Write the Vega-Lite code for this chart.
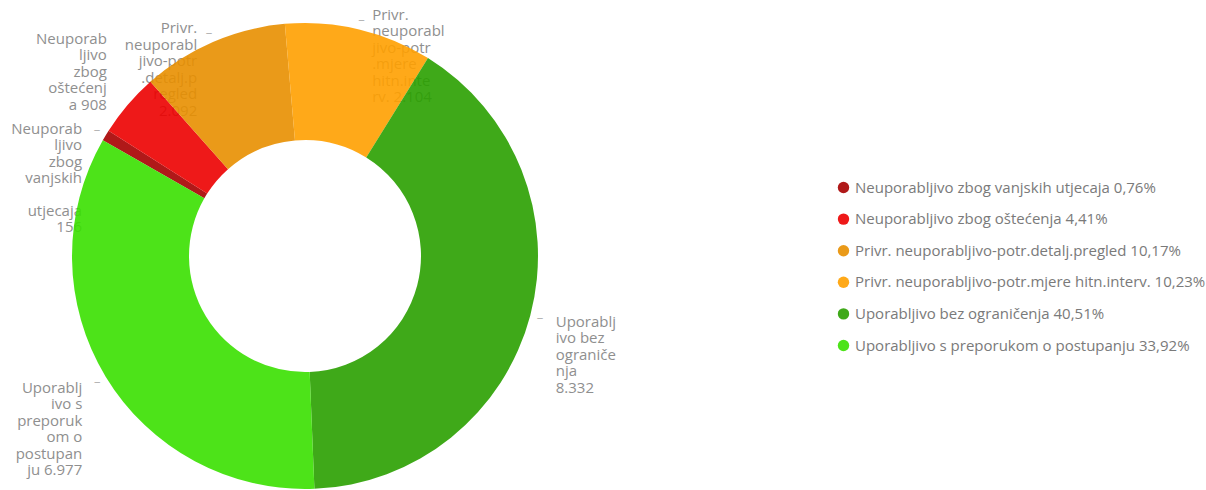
{
  "$schema": "https://vega.github.io/schema/vega-lite/v6.json",
  "autosize": "none",
  "width": 610,
  "height": 468,
  "padding": {"left": 0, "top": 22, "right": 596, "bottom": 0},
  "background": "white",
  "config": {"view": {"stroke": null}, "font": "Open Sans"},
  "data": {
    "values": [
      {"n": 1, "cat": "Neuporabljivo zbog vanjskih utjecaja", "value": 156, "legend": "Neuporabljivo zbog vanjskih utjecaja 0,76%", "label": "Neuporab\nljivo\nzbog\nvanjskih", "label2": "utjecaja\n156"},
      {"n": 2, "cat": "Neuporabljivo zbog oštećenja", "value": 908, "legend": "Neuporabljivo zbog oštećenja 4,41%", "label": "Neuporab\nljivo\nzbog\noštećenj\na 908", "label2": ""},
      {"n": 3, "cat": "Privr. neuporabljivo-potr.detalj.pregled", "value": 2092, "legend": "Privr. neuporabljivo-potr.detalj.pregled 10,17%", "label": "Privr.\nneuporabl\njivo-potr\n.detalj.p\nregled\n2.092", "label2": ""},
      {"n": 4, "cat": "Privr. neuporabljivo-potr.mjere hitn.interv.", "value": 2104, "legend": "Privr. neuporabljivo-potr.mjere hitn.interv. 10,23%", "label": "Privr.\nneuporabl\njivo-potr\n.mjere\nhitn.inte\nrv. 2.104", "label2": ""},
      {"n": 5, "cat": "Uporabljivo bez ograničenja", "value": 8332, "legend": "Uporabljivo bez ograničenja 40,51%", "label": "Uporablj\nivo bez\nograniče\nnja\n8.332", "label2": ""},
      {"n": 6, "cat": "Uporabljivo s preporukom o postupanju", "value": 6977, "legend": "Uporabljivo s preporukom o postupanju 33,92%", "label": "Uporablj\nivo s\npreporuk\nom o\npostupan\nju 6.977", "label2": ""}
    ]
  },
  "encoding": {
    "theta": {"field": "value", "type": "quantitative", "stack": true,
      "scale": {"domain": [0, 20569], "range": [-1.0507, 5.2325], "zero": true, "nice": false}},
    "order": {"field": "n", "type": "quantitative"}
  },
  "layer": [
    {
      "mark": {"type": "text", "radius": 250, "align": "left", "baseline": "top", "dx": 9, "dy": -5, "fontSize": 15, "lineHeight": 16.5, "lineBreak": "\n", "fill": "#8f8f8f", "font": "Open Sans"},
      "encoding": {
        "text": {"condition": {"test": "datum.cat === 'Privr. neuporabljivo-potr.mjere hitn.interv.' || datum.cat === 'Uporabljivo bez ograničenja'", "field": "label"}, "value": ""}
      }
    },
    {
      "mark": {"type": "text", "radius": 250, "align": "right", "baseline": "top", "dx": -9, "dy": -5, "fontSize": 15, "lineHeight": 16.5, "lineBreak": "\n", "fill": "#8f8f8f", "font": "Open Sans"},
      "encoding": {
        "text": {"condition": {"test": "datum.cat === 'Neuporabljivo zbog vanjskih utjecaja' || datum.cat === 'Privr. neuporabljivo-potr.detalj.pregled' || datum.cat === 'Uporabljivo s preporukom o postupanju'", "field": "label"}, "value": ""}
      }
    },
    {
      "mark": {"type": "text", "radius": 250, "align": "right", "baseline": "top", "dx": -9, "dy": 77, "fontSize": 15, "lineHeight": 16.5, "lineBreak": "\n", "fill": "#8f8f8f", "font": "Open Sans"},
      "encoding": {
        "text": {"field": "label2"}
      }
    },
    {
      "mark": {"type": "text", "radius": 250, "align": "right", "baseline": "top", "dx": -8, "dy": -62, "fontSize": 15, "lineHeight": 16.5, "lineBreak": "\n", "fill": "#8f8f8f", "font": "Open Sans"},
      "encoding": {
        "text": {"condition": {"test": "datum.cat === 'Neuporabljivo zbog oštećenja'", "field": "label"}, "value": ""}
      }
    },
    {
      "mark": {"type": "text", "radius": 243, "align": "center", "baseline": "middle", "fontSize": 13, "fill": "#b5b5b5", "font": "Open Sans"},
      "encoding": {
        "text": {"condition": {"test": "datum.cat === 'Neuporabljivo zbog oštećenja'", "value": ""}, "value": "–"}
      }
    },
    {
      "mark": {"type": "arc", "outerRadius": 233, "innerRadius": 116, "opacity": 0.9},
      "encoding": {
        "color": {
          "field": "legend", "type": "nominal",
          "scale": {
            "domain": ["Neuporabljivo zbog vanjskih utjecaja 0,76%", "Neuporabljivo zbog oštećenja 4,41%", "Privr. neuporabljivo-potr.detalj.pregled 10,17%", "Privr. neuporabljivo-potr.mjere hitn.interv. 10,23%", "Uporabljivo bez ograničenja 40,51%", "Uporabljivo s preporukom o postupanju 33,92%"],
            "range": ["#A70000", "#EC0000", "#E88F00", "#FFA000", "#2AA000", "#3AE000"]
          },
          "legend": {
            "title": null, "orient": "none", "legendX": 836, "legendY": 158,
            "symbolType": "circle", "symbolSize": 130, "symbolStrokeWidth": 0,
            "labelFont": "Open Sans", "labelFontSize": 15, "labelColor": "#7a7a7a",
            "labelOffset": 4, "rowPadding": 15.6, "labelLimit": 400
          }
        }
      }
    }
  ]
}
